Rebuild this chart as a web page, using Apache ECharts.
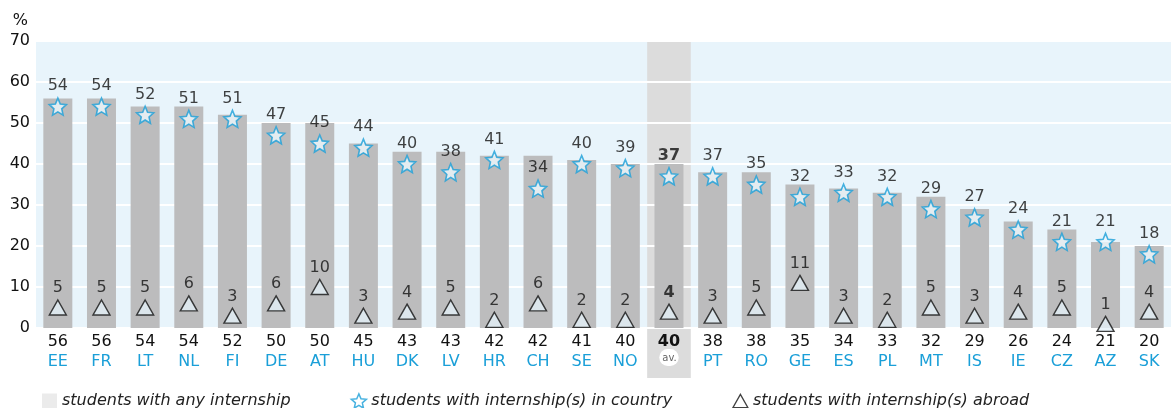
<!DOCTYPE html>
<html>
<head>
<meta charset="utf-8">
<script src="https://cdn.jsdelivr.net/npm/echarts@6/dist/echarts.min.js"></script>
<style>
  html, body { margin: 0; padding: 0; background: #fff; }
  #chart { width: 1171px; height: 408px; }
</style>
</head>
<body>
<div id="chart"></div>
<script>
// countries, 'av' is the average column
const countries = ['EE', 'FR', 'LT', 'NL', 'FI', 'DE', 'AT', 'HU', 'DK', 'LV', 'HR', 'CH', 'SE', 'NO', 'av',
  'PT', 'RO', 'GE', 'ES', 'PL', 'MT', 'IS', 'IE', 'CZ', 'AZ', 'SK'];
// students with any internship (%)
const anyInternship = [56, 56, 54, 54, 52, 50, 50, 45, 43, 43, 42, 42, 41, 40, 40,
  38, 38, 35, 34, 33, 32, 29, 26, 24, 21, 20];
// students with internship(s) in country (%)
const inCountry = [54, 54, 52, 51, 51, 47, 45, 44, 40, 38, 41, 34, 40, 39, 37,
  37, 35, 32, 33, 32, 29, 27, 24, 21, 21, 18];
// students with internship(s) abroad (%)
const abroad = [5, 5, 5, 6, 3, 6, 10, 3, 4, 5, 2, 6, 2, 2, 4,
  3, 5, 11, 3, 2, 5, 3, 4, 5, 1, 4];
const yTicks = [0, 10, 20, 30, 40, 50, 60, 70];

const avIndex = countries.indexOf('av');
const FONT = 'DejaVu Sans';
const BLUE = '#1a9fd8';
const INK = '#111';

// five pointed star outline
function starPath() {
  const pts = [];
  for (let i = 0; i < 10; i++) {
    const r = i % 2 === 0 ? 10 : 4.6;
    const a = -Math.PI / 2 + i * Math.PI / 5;
    pts.push((10 + r * Math.cos(a)).toFixed(2) + ' ' + (10 + r * Math.sin(a)).toFixed(2));
  }
  return 'path://M' + pts.join(' L') + ' Z';
}
const STAR = starPath();
const TRI = 'path://M10 1 L19 17 L1 17 Z';

const chart = echarts.init(document.getElementById('chart'));

const markLabel = (idx) => ({
  show: true,
  position: 'top',
  distance: 3,
  fontFamily: FONT,
  fontSize: 16,
  color: INK,
  fontWeight: idx === avIndex ? 'bold' : 'normal'
});

const option = {
  animation: false,
  textStyle: { fontFamily: FONT },
  grid: {
    left: 36, right: -6, top: 41, bottom: 80, z: 0,
    show: true, backgroundColor: '#e8f4fb', borderWidth: 0
  },
  legend: {
    left: 37, top: 388,
    itemGap: 60,
    itemWidth: 15, itemHeight: 15,
    textStyle: { fontFamily: FONT, fontSize: 16, fontStyle: 'italic', color: '#222' },
    data: [
      { name: 'students with any internship', icon: 'rect', itemStyle: { color: '#ebebeb', borderWidth: 0 } },
      { name: 'students with internship(s) in country', icon: STAR,
        itemStyle: { color: '#ffffff', borderColor: BLUE, borderWidth: 1.5 } },
      { name: 'students with internship(s) abroad', icon: TRI,
        itemStyle: { color: '#ffffff', borderColor: INK, borderWidth: 1.3 } }
    ]
  },
  xAxis: {
    type: 'category',
    data: countries,
    z: 5,
    axisLine: { show: false },
    axisTick: { show: false },
    axisLabel: {
      interval: 0,
      margin: 4,
      formatter: (v, i) => i === avIndex
        ? '{vb|' + anyInternship[i] + '}\n{av|av.}'
        : '{v|' + anyInternship[i] + '}\n{c|' + v + '}',
      rich: {
        v: { fontFamily: FONT, fontSize: 16, color: INK, lineHeight: 20 },
        vb: { fontFamily: FONT, fontSize: 16, color: INK, fontWeight: 'bold', lineHeight: 20 },
        c: { fontFamily: FONT, fontSize: 16, color: BLUE, lineHeight: 20 },
        av: { fontFamily: FONT, fontSize: 10, color: '#666', backgroundColor: '#fff',
          borderRadius: 9, padding: [4, 2, 3, 3], lineHeight: 11 }
      }
    }
  },
  yAxis: {
    type: 'value',
    min: yTicks[0], max: yTicks[yTicks.length - 1], interval: 10,
    z: 2,
    name: '%',
    nameLocation: 'end',
    nameGap: 12,
    nameTextStyle: { fontFamily: FONT, fontSize: 16, color: INK, align: 'right', padding: [0, 8, 0, 0] },
    axisLine: { show: false },
    axisTick: { show: false },
    axisLabel: { fontFamily: FONT, fontSize: 16, color: INK, margin: 6 },
    splitLine: { lineStyle: { color: '#ffffff', width: 2 } }
  },
  series: [
    {
      name: 'students with any internship',
      type: 'bar',
      z: 3,
      barWidth: 29,
      itemStyle: { color: '#bcbcbd' },
      data: anyInternship
    },
    {
      name: 'students with internship(s) in country',
      type: 'scatter',
      z: 4,
      symbol: STAR,
      symbolSize: 17,
      itemStyle: { color: '#eef8fd', borderColor: BLUE, borderWidth: 1.6 },
      data: inCountry.map((v, i) => ({ value: v, label: markLabel(i) }))
    },
    {
      name: 'students with internship(s) abroad',
      type: 'scatter',
      z: 4,
      symbol: 'triangle',
      symbolSize: [17, 15],
      itemStyle: { color: '#e4f0f8', borderColor: INK, borderWidth: 1.4 },
      data: abroad.map((v, i) => ({ value: v, label: markLabel(i) }))
    }
  ]
};
chart.setOption(option);

// grey band behind the average column, reaching down through the axis labels
const cx = chart.convertToPixel({ xAxisIndex: 0 }, 'av');
const step = chart.convertToPixel({ xAxisIndex: 0 }, countries[avIndex + 1]) - cx;
const yTop = chart.convertToPixel({ yAxisIndex: 0 }, yTicks[yTicks.length - 1]);
const yZero = chart.convertToPixel({ yAxisIndex: 0 }, 0);
chart.setOption({
  graphic: [{
    type: 'rect', z: 1, silent: true,
    shape: { x: cx - step / 2, y: yTop, width: step, height: yZero - yTop + 50 },
    style: { fill: '#dcdcdc' }
  }]
});
</script>
</body>
</html>
